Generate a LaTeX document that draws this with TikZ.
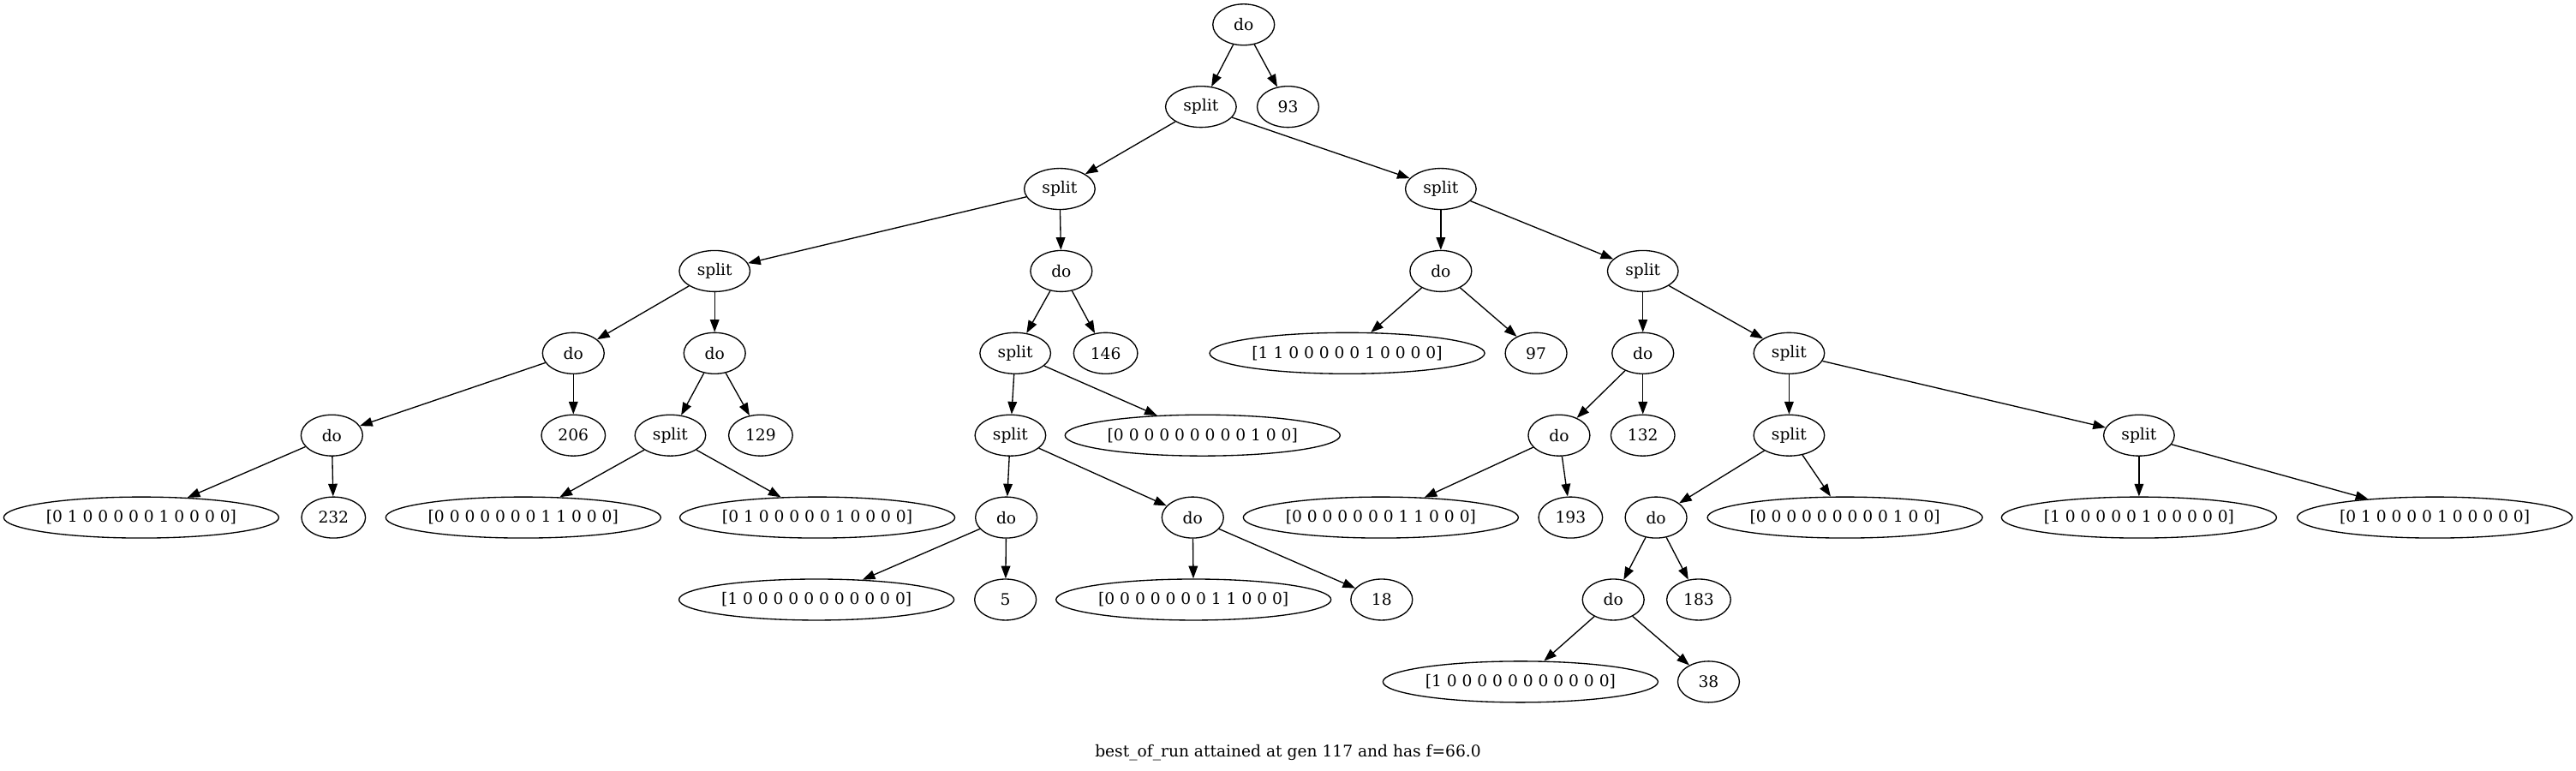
\documentclass[tikz,border=0pt]{standalone}
\usepackage{fontspec}
\setmainfont{DejaVu Serif}
\usetikzlibrary{shapes.geometric,arrows.meta}
\tikzset{
  gnode/.style={ellipse,draw,line width=1pt,inner sep=0pt,minimum height=36pt,minimum width=54pt,font=\fontsize{14pt}{17pt}\selectfont},
  splitnode/.style={gnode,minimum width=62pt},
  numnode/.style={gnode,minimum width=56pt},
  vecnode/.style={gnode,minimum width=241pt},
  conn/.style={draw,line width=1pt,-{Triangle[length=11pt,width=8pt]}}
}
\begin{document}
\begin{tikzpicture}[x=1.4394pt,y=-1.4394pt]
\useasboundingbox (0,0) rectangle (1568,469);
% rank 0
\node[gnode] (root) at (757,15) {do};
% rank 1
\node[splitnode] (s1) at (731,65) {split};
\node[gnode] (n93) at (784,65) {93};
% rank 2
\node[splitnode] (s2L) at (645,115) {split};
\node[splitnode] (s2R) at (877,115) {split};
% rank 3
\node[splitnode] (s3a) at (435,165) {split};
\node[gnode] (d3b) at (646,165) {do};
\node[gnode] (d3c) at (877,165) {do};
\node[splitnode] (s3d) at (1000,165) {split};
% rank 4
\node[gnode] (d4a) at (349,215) {do};
\node[gnode] (d4b) at (435,215) {do};
\node[splitnode] (s4c) at (618,215) {split};
\node[numnode] (n146) at (673,215) {146};
\node[vecnode] (vF) at (820,215) {[1 1 0 0 0 0 0 1 0 0 0 0]};
\node[gnode] (n97) at (935,215) {97};
\node[gnode] (d4d) at (1000,215) {do};
\node[splitnode] (s4e) at (1089,215) {split};
% rank 5
\node[gnode] (d5a) at (202,265) {do};
\node[numnode] (n206) at (349,265) {206};
\node[splitnode] (s5b) at (408,265) {split};
\node[numnode] (n129) at (463,265) {129};
\node[splitnode] (s5c) at (615,265) {split};
\node[vecnode] (vE) at (732,265) {[0 0 0 0 0 0 0 0 0 1 0 0]};
\node[gnode] (d5d) at (949,265) {do};
\node[numnode] (n132) at (1000,265) {132};
\node[splitnode] (s5e) at (1089,265) {split};
\node[splitnode] (s5f) at (1302,265) {split};
% rank 6
\node[vecnode] (vA) at (86,315) {[0 1 0 0 0 0 0 1 0 0 0 0]};
\node[numnode] (n232) at (203,315) {232};
\node[vecnode] (vB) at (318.5,315) {[0 0 0 0 0 0 0 1 1 0 0 0]};
\node[vecnode] (vC) at (497.5,315) {[0 1 0 0 0 0 0 1 0 0 0 0]};
\node[gnode] (d6a) at (612.5,315) {do};
\node[gnode] (d6b) at (726,315) {do};
\node[vecnode] (vH) at (840.5,315) {[0 0 0 0 0 0 0 1 1 0 0 0]};
\node[numnode] (n193) at (956,315) {193};
\node[gnode] (d6c) at (1008,315) {do};
\node[vecnode] (vI) at (1123,315) {[0 0 0 0 0 0 0 0 0 1 0 0]};
\node[vecnode] (vJ) at (1302,315) {[1 0 0 0 0 0 1 0 0 0 0 0]};
\node[vecnode] (vK) at (1482,315) {[0 1 0 0 0 0 1 0 0 0 0 0]};
% rank 7
\node[vecnode] (vD) at (497,365) {[1 0 0 0 0 0 0 0 0 0 0 0]};
\node[gnode] (n5) at (612,365) {5};
\node[vecnode] (vG) at (726.5,365) {[0 0 0 0 0 0 0 1 1 0 0 0]};
\node[gnode] (n18) at (841,365) {18};
\node[gnode] (d7) at (982,365) {do};
\node[numnode] (n183) at (1034,365) {183};
% rank 8
\node[vecnode] (vL) at (925.5,415) {[1 0 0 0 0 0 0 0 0 0 0 0]};
\node[gnode] (n38) at (1040,415) {38};
% caption
\node[font=\fontsize{14pt}{17pt}\selectfont,inner sep=0pt] (cap) at (784,458) {best\_of\_run attained at gen 117 and has f=66.0};
% edges
\path[conn] (root) -- (s1);
\path[conn] (root) -- (n93);
\path[conn] (s1) -- (s2L);
\path[conn] (s1) -- (s2R);
\path[conn] (s2L) -- (s3a);
\path[conn] (s2L) -- (d3b);
\path[conn] (s2R) -- (d3c);
\path[conn] (s2R) -- (s3d);
\path[conn] (s3a) -- (d4a);
\path[conn] (s3a) -- (d4b);
\path[conn] (d3b) -- (s4c);
\path[conn] (d3b) -- (n146);
\path[conn] (d3c) -- (vF);
\path[conn] (d3c) -- (n97);
\path[conn] (s3d) -- (d4d);
\path[conn] (s3d) -- (s4e);
\path[conn] (d4a) -- (d5a);
\path[conn] (d4a) -- (n206);
\path[conn] (d4b) -- (s5b);
\path[conn] (d4b) -- (n129);
\path[conn] (s4c) -- (s5c);
\path[conn] (s4c) -- (vE);
\path[conn] (d4d) -- (d5d);
\path[conn] (d4d) -- (n132);
\path[conn] (s4e) -- (s5e);
\path[conn] (s4e) -- (s5f);
\path[conn] (d5a) -- (vA);
\path[conn] (d5a) -- (n232);
\path[conn] (s5b) -- (vB);
\path[conn] (s5b) -- (vC);
\path[conn] (s5c) -- (d6a);
\path[conn] (s5c) -- (d6b);
\path[conn] (d5d) -- (vH);
\path[conn] (d5d) -- (n193);
\path[conn] (s5e) -- (d6c);
\path[conn] (s5e) -- (vI);
\path[conn] (s5f) -- (vJ);
\path[conn] (s5f) -- (vK);
\path[conn] (d6a) -- (vD);
\path[conn] (d6a) -- (n5);
\path[conn] (d6b) -- (vG);
\path[conn] (d6b) -- (n18);
\path[conn] (d6c) -- (d7);
\path[conn] (d6c) -- (n183);
\path[conn] (d7) -- (vL);
\path[conn] (d7) -- (n38);
\end{tikzpicture}
\end{document}
